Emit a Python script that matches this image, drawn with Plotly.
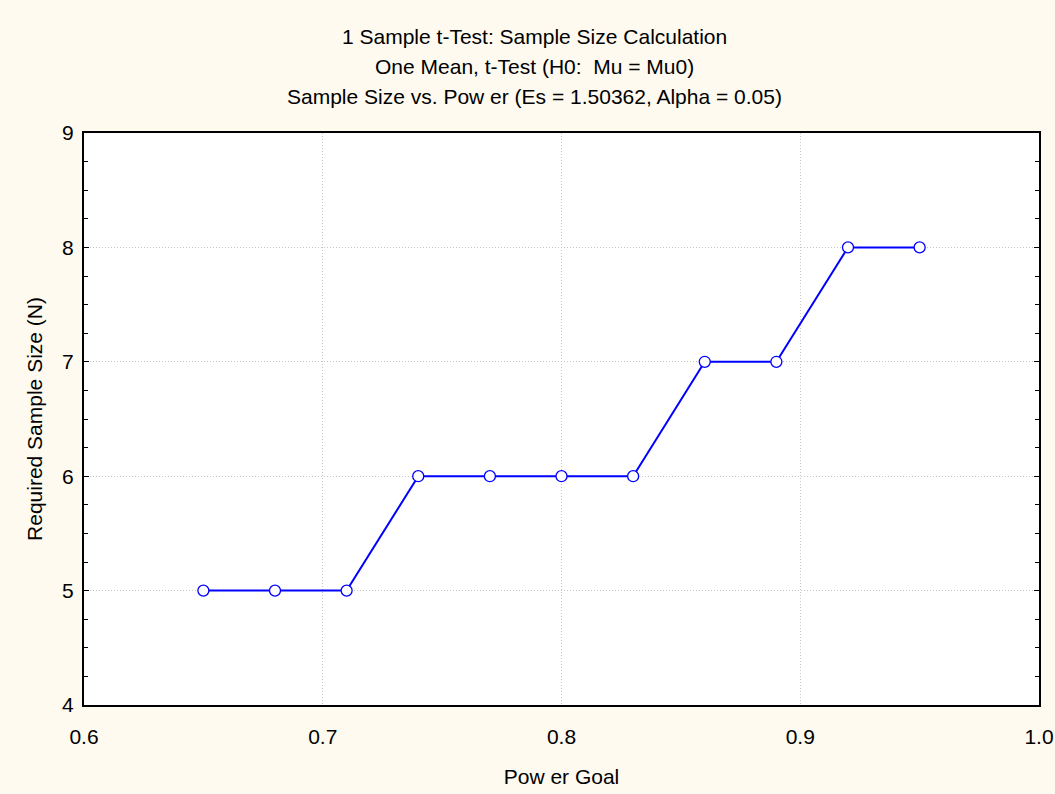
import plotly.graph_objects as go

# Power goal vs required sample size (one-sample t-test)
power_goal = [0.65, 0.68, 0.71, 0.74, 0.77, 0.80, 0.83, 0.86, 0.89, 0.92, 0.95]
sample_size = [5, 5, 5, 6, 6, 6, 6, 7, 7, 8, 8]

title_lines = [
    "1 Sample t-Test: Sample Size Calculation",
    "One Mean, t-Test (H0:  Mu = Mu0)",
    "Sample Size vs. Pow er (Es = 1.50362, Alpha = 0.05)",
]

FONT = "Liberation Sans, Arial, sans-serif"
BG = "#FEFAF0"
FS = 21

fig = go.Figure()
fig.add_trace(go.Scatter(
    x=power_goal, y=sample_size, mode="lines+markers",
    line=dict(color="#0000FF", width=2),
    marker=dict(symbol="circle", size=11, color="white",
                line=dict(color="#0000FF", width=1.3)),
    showlegend=False, cliponaxis=False,
))

plot_h = 572
line_offsets = [96, 67, 37]  # pixels above the plot top
for text, off in zip(title_lines, line_offsets):
    fig.add_annotation(text=text, xref="paper", yref="paper",
                       x=0.472, y=1 + off / plot_h, xanchor="center", yanchor="middle",
                       showarrow=False, font=dict(family=FONT, size=FS, color="black"))

fig.update_layout(
    width=1055, height=794,
    margin=dict(l=84, r=16, t=133, b=89, autoexpand=False),
    paper_bgcolor=BG, plot_bgcolor="white",
    font=dict(family=FONT, size=FS, color="black"),
    xaxis=dict(
        range=[0.6, 1.0], dtick=0.1, tickformat=".1f", automargin=False,
        showline=True, linecolor="black", linewidth=2, mirror=True,
        ticks="", ticklabelstandoff=12,
        showgrid=True, gridcolor="#C4C4C4", griddash="1px,2px", gridwidth=1,
        zeroline=False,
        title=dict(text="Pow er Goal", standoff=22, font=dict(size=FS)),
    ),
    yaxis=dict(
        range=[4, 9], dtick=1, automargin=False,
        showline=True, linecolor="black", linewidth=2, mirror="allticks",
        ticks="inside", ticklen=5, tickcolor="black", tickwidth=1,
        ticklabelstandoff=4,
        minor=dict(dtick=0.25, ticks="inside", ticklen=4, tickcolor="black", showgrid=False),
        showgrid=True, gridcolor="#C4C4C4", griddash="1px,2px", gridwidth=1,
        zeroline=False,
        title=dict(text="Required Sample Size (N)", standoff=14, font=dict(size=FS)),
    ),
)

fig.write_html("out.html")
